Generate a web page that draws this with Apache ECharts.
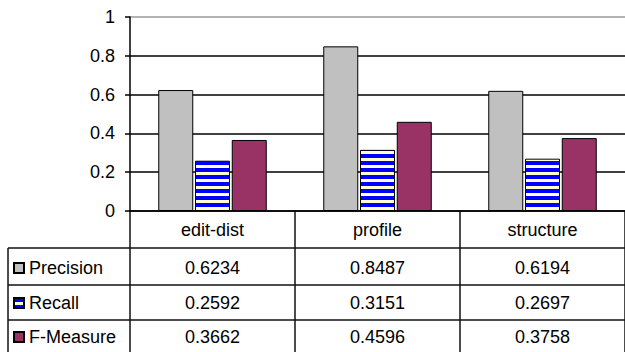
<!DOCTYPE html>
<html>
<head>
<meta charset="utf-8">
<script src="https://cdn.jsdelivr.net/npm/echarts@6/dist/echarts.min.js"></script>
<style>
  html, body { margin: 0; padding: 0; background: #fff; }
  #chart { width: 625px; height: 352px; }
</style>
</head>
<body>
<div id="chart"></div>
<script>
// Data
const categories = ['edit-dist', 'profile', 'structure'];
const seriesNames = ['Precision', 'Recall', 'F-Measure'];
const precision = [0.6234, 0.8487, 0.6194];
const recall = [0.2592, 0.3151, 0.2697];
const fMeasure = [0.3662, 0.4596, 0.3758];
const yTickValues = [0, 0.2, 0.4, 0.6, 0.8, 1];

// Layout
const FONT = '"Liberation Sans", Arial, sans-serif';
const GRID_LEFT = 130, GRID_TOP = 17, GRID_WIDTH = 500, PLOT_BOTTOM = 211;
const TABLE_LEFT = 8;
const ROW_LINES = [248, 285, 320];
const ROW_CENTERS = [268, 303, 337];
const LINE = '#111';

// Horizontal blue/cream stripes for the Recall bars
const stripe = document.createElement('canvas');
stripe.width = 8; stripe.height = 7;
const sctx = stripe.getContext('2d');
sctx.fillStyle = '#ffffcc'; sctx.fillRect(0, 0, 8, 7);
sctx.fillStyle = '#0000ff'; sctx.fillRect(0, 0, 8, 4);
const stripeFill = { image: stripe.toDataURL(), repeat: 'repeat', imageWidth: 8, imageHeight: 7 };

const chart = echarts.init(document.getElementById('chart'), null, { renderer: 'svg' });

const barStyle = (color) => ({ color: color, borderColor: '#000', borderWidth: 1 });

// One legend entry per table row, each placed at its row's centre
const legends = seriesNames.map((name, r) => ({
  left: 13,
  top: ROW_CENTERS[r] - 10,
  padding: 0,
  itemWidth: 10,
  itemHeight: 10,
  icon: 'rect',
  selectedMode: false,
  data: [name],
  textStyle: { fontSize: 18, lineHeight: 20, color: '#000', fontFamily: FONT }
}));

chart.setOption({
  animation: false,
  backgroundColor: '#fff',
  textStyle: { fontFamily: FONT },
  grid: { left: GRID_LEFT, top: GRID_TOP, width: GRID_WIDTH, bottom: 352 - PLOT_BOTTOM, containLabel: false },
  legend: legends,
  xAxis: {
    type: 'category',
    data: categories,
    boundaryGap: true,
    axisLine: { lineStyle: { color: '#000', width: 1.5 } },
    axisTick: { show: false },
    axisLabel: { color: '#000', fontSize: 18, fontFamily: FONT, margin: 10 },
    splitLine: { show: false }
  },
  yAxis: {
    type: 'value',
    min: yTickValues[0],
    max: yTickValues[yTickValues.length - 1],
    interval: 0.2,
    axisLine: { show: true, lineStyle: { color: '#000', width: 1.5 } },
    axisTick: { show: true, length: 5, lineStyle: { color: '#000', width: 1.5 } },
    axisLabel: { color: '#000', fontSize: 18, fontFamily: FONT, margin: 15 },
    splitLine: { show: true, lineStyle: { color: ['#000', '#000', '#000', '#000', '#000', '#999'], width: 1.5 } }
  },
  series: [
    { name: seriesNames[0], type: 'bar', data: precision, barWidth: 35, barGap: '5%', itemStyle: barStyle('#c0c0c0') },
    { name: seriesNames[1], type: 'bar', data: recall, barWidth: 35, barGap: '5%', itemStyle: barStyle(stripeFill) },
    { name: seriesNames[2], type: 'bar', data: fMeasure, barWidth: 35, barGap: '5%', itemStyle: barStyle('#993366') }
  ]
});

// Data table under the plot, aligned to the category bands
const centers = categories.map((c) => chart.convertToPixel({ xAxisIndex: 0 }, c));
const band = centers[1] - centers[0];
const bounds = [centers[0] - band / 2].concat(centers.map((c) => c + band / 2));
const tableRight = bounds[bounds.length - 1];
const rows = [precision, recall, fMeasure];

const elements = [];
const line = (x1, y1, x2, y2) => ({
  type: 'line', silent: true,
  shape: { x1: x1, y1: y1, x2: x2, y2: y2 },
  style: { stroke: LINE, lineWidth: 1.5 }
});

bounds.forEach((x) => elements.push(line(x, PLOT_BOTTOM, x, 360)));
ROW_LINES.forEach((y) => elements.push(line(TABLE_LEFT, y, tableRight, y)));
elements.push(line(TABLE_LEFT, ROW_LINES[0], TABLE_LEFT, 360));

rows.forEach((vals, r) => {
  vals.forEach((v, i) => {
    elements.push({
      type: 'text', silent: true,
      style: {
        text: v.toFixed(4), x: centers[i], y: ROW_CENTERS[r],
        textAlign: 'center', textVerticalAlign: 'middle',
        align: 'center', verticalAlign: 'middle',
        font: '18px ' + FONT, fill: '#000'
      }
    });
  });
});

chart.setOption({ graphic: { elements: elements } });
</script>
</body>
</html>
